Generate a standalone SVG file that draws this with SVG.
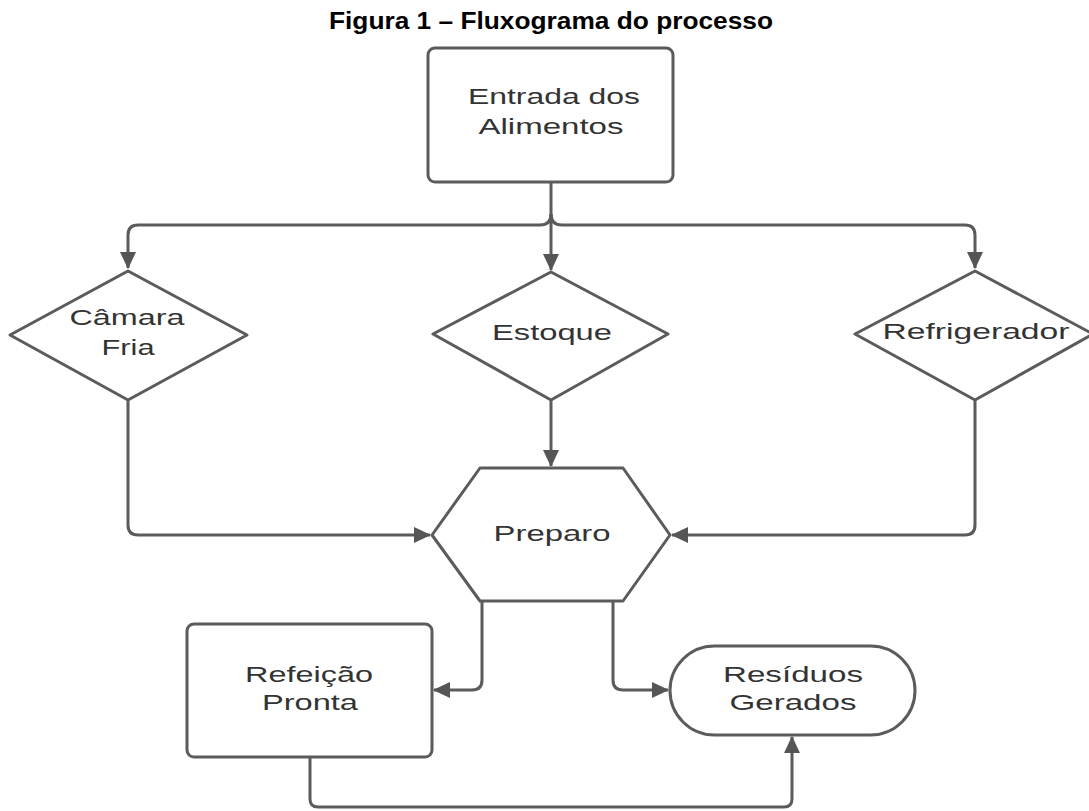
<svg xmlns="http://www.w3.org/2000/svg" width="1089" height="811" viewBox="0 0 1089 811">
<style>
.shape{fill:#fff;stroke:#5b5b5b;stroke-width:3;stroke-linejoin:round}
.lbl{font-family:"Liberation Sans",Arial,sans-serif;font-size:22px;fill:#333;text-anchor:middle}
.title{font-family:"Liberation Sans",Arial,sans-serif;font-size:23.5px;font-weight:bold;fill:#000;text-anchor:middle}
.conn{fill:none;stroke:#5b5b5b;stroke-width:3;stroke-linejoin:round}
</style>
<defs>
<marker id="ah" markerUnits="userSpaceOnUse" markerWidth="18" markerHeight="16" refX="16" refY="8" orient="auto">
<path d="M0,0 L17,8 L0,16 Z" fill="#555"/>
</marker>
</defs>
<rect width="1089" height="811" fill="#fff"/>
<text class="title" x="551" y="29" textLength="444" lengthAdjust="spacingAndGlyphs">Figura 1 – Fluxograma do processo</text>

<g id="connectors">
<path class="conn" d="M551,182 V270" marker-end="url(#ah)"/>
<path class="conn" d="M551,214 Q551,225 540,225 H138 Q128,225 128,235 V268" marker-end="url(#ah)"/>
<path class="conn" d="M551,214 Q551,225 562,225 H965 Q975,225 975,235 V268" marker-end="url(#ah)"/>
<path class="conn" d="M128,400 V525 Q128,535 138,535 H430" marker-end="url(#ah)"/>
<path class="conn" d="M551,400 V466" marker-end="url(#ah)"/>
<path class="conn" d="M975,400 V525 Q975,535 965,535 H672" marker-end="url(#ah)"/>
<path class="conn" d="M482,601 V680 Q482,690 472,690 H434" marker-end="url(#ah)"/>
<path class="conn" d="M613,601 V680 Q613,690 623,690 H668" marker-end="url(#ah)"/>
<path class="conn" d="M310,757 V799 Q310,807 318,807 H784 Q792,807 792,799 V737" marker-end="url(#ah)"/>
</g>

<g id="entrada">
<rect class="shape" x="428" y="48" width="245" height="134" rx="7"/>
<text class="lbl" x="554" y="104" textLength="172" lengthAdjust="spacingAndGlyphs">Entrada dos</text>
<text class="lbl" x="551" y="134" textLength="145" lengthAdjust="spacingAndGlyphs">Alimentos</text>
</g>

<g id="camara">
<path class="shape" d="M128,271 L247,335 L128,400 L10,335 Z"/>
<text class="lbl" x="127" y="325" textLength="115" lengthAdjust="spacingAndGlyphs">Câmara</text>
<text class="lbl" x="128" y="355" textLength="53" lengthAdjust="spacingAndGlyphs">Fria</text>
</g>

<g id="estoque">
<path class="shape" d="M551,272 L668,334 L551,400 L433,334 Z"/>
<text class="lbl" x="552" y="340" textLength="120" lengthAdjust="spacingAndGlyphs">Estoque</text>
</g>

<g id="refrigerador">
<path class="shape" d="M975,271 L1093,334 L975,400 L855,334 Z"/>
<text class="lbl" x="976" y="339" textLength="187" lengthAdjust="spacingAndGlyphs">Refrigerador</text>
</g>

<g id="preparo">
<path class="shape" d="M480,468 H623 L670,535 L623,601 H480 L432,535 Z"/>
<text class="lbl" x="552" y="541" textLength="117" lengthAdjust="spacingAndGlyphs">Preparo</text>
</g>

<g id="refeicao">
<rect class="shape" x="187" y="624" width="245" height="133" rx="7"/>
<text class="lbl" x="309" y="682" textLength="128" lengthAdjust="spacingAndGlyphs">Refeição</text>
<text class="lbl" x="310" y="710" textLength="96" lengthAdjust="spacingAndGlyphs">Pronta</text>
</g>

<g id="residuos">
<rect class="shape" x="670" y="646" width="245" height="89" rx="44.5"/>
<text class="lbl" x="793" y="682" textLength="140" lengthAdjust="spacingAndGlyphs">Resíduos</text>
<text class="lbl" x="793" y="710" textLength="127" lengthAdjust="spacingAndGlyphs">Gerados</text>
</g>
</svg>
